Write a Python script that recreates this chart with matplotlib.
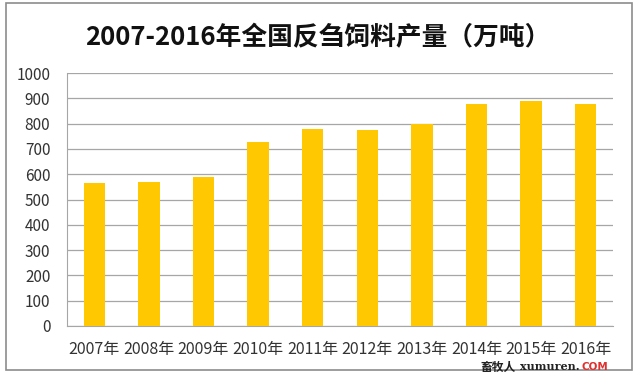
import matplotlib.pyplot as plt
from matplotlib.patches import Rectangle

plt.rcParams['font.family'] = ['Noto Sans CJK SC', 'DejaVu Sans']

years = ['2007年', '2008年', '2009年', '2010年', '2011年',
         '2012年', '2013年', '2014年', '2015年', '2016年']
output = [565, 569, 589, 727, 778, 775, 797, 876, 888, 877]
yticks = [0, 100, 200, 300, 400, 500, 600, 700, 800, 900, 1000]

fig = plt.figure(figsize=(6.4, 3.77), dpi=100)
W, H = 640, 377

# chart frame (excel-like border)
fig.patches.append(Rectangle((6 / W, 1 - 370 / H), 626 / W, 367 / H,
                             transform=fig.transFigure, fill=False,
                             edgecolor='#8c8c8c', linewidth=1.2))

ax = fig.add_axes([67 / W, 1 - 326 / H, (613 - 67) / W, (326 - 73) / H])
x = range(len(years))
ax.bar(x, output, width=0.39, color='#FFC800', zorder=3)

ax.set_ylim(0, 1000)
ax.set_xlim(-0.5, len(years) - 0.5)
ax.set_yticks(yticks)
ax.set_xticks(list(x))
ax.set_xticklabels(years)
ax.grid(axis='y', color='#a6a6a6', linewidth=0.9, zorder=0)
for side in ['top', 'right']:
    ax.spines[side].set_visible(False)
for side in ['left', 'bottom']:
    ax.spines[side].set_color('#a6a6a6')
ax.tick_params(length=0, labelsize=11, colors='#333333')
ax.tick_params(axis='x', pad=11, labelsize=11.5)
ax.tick_params(axis='y', pad=12)

fig.text(0.497, 1 - 38 / H, '2007-2016年全国反刍饲料产量（万吨）',
         ha='center', va='center', fontsize=18.5, fontweight='bold', color='#111111')

# watermark, kept just under the year labels
wm_y = 1 - 367 / H
fig.text(516 / W, wm_y, '畜牧人', ha='right', va='center',
         fontsize=8.5, fontweight='bold', color='#222222')
fig.text(580 / W, wm_y, 'xumuren.', ha='right', va='center',
         fontsize=8, fontweight='bold', color='#222222', family='DejaVu Serif')
fig.text(581 / W, wm_y, 'COM', ha='left', va='center',
         fontsize=7.5, fontweight='bold', color='#e03030', family='DejaVu Sans')

fig.savefig('out.png', dpi=100)
